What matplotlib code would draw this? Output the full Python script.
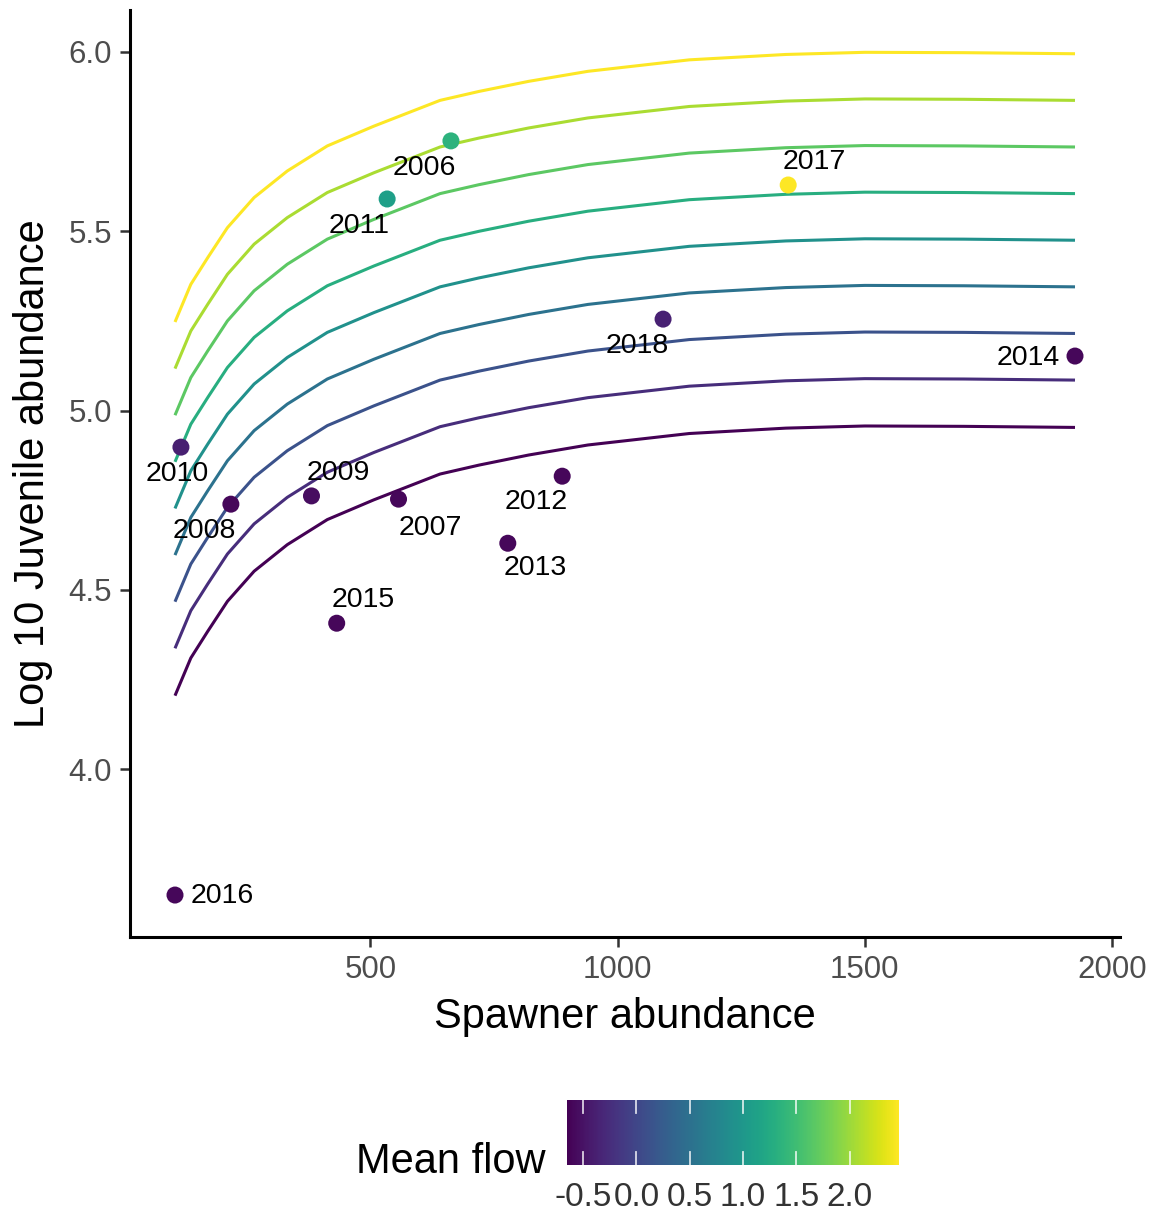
import matplotlib
matplotlib.use("Agg")
import matplotlib.pyplot as plt
import numpy as np
from matplotlib import colors

plt.rcParams['font.family'] = ['Liberation Sans', 'DejaVu Sans']

# ---------------- data ----------------
years = ['2006', '2007', '2008', '2009', '2010', '2011', '2012',
         '2013', '2014', '2015', '2016', '2017', '2018']
spawners = [663, 557, 218, 381, 117, 534, 888, 778, 1925, 432, 105, 1345, 1092]
log_juv = [5.752, 4.753, 4.739, 4.762, 4.898, 5.590, 4.817,
           4.630, 5.152, 4.407, 3.649, 5.629, 5.255]
mean_flow = [1.35, -0.60, -0.60, -0.55, -0.38, 1.10, -0.60,
             -0.60, -0.60, -0.60, -0.60, 2.46, -0.36]

# predicted curves: top (highest flow) curve
curve_S = [105, 137, 171, 211, 265, 332, 413, 507, 641, 720, 820, 940,
           1145, 1340, 1500, 1700, 1925]
top_curve = [5.247, 5.352, 5.426, 5.510, 5.594, 5.668, 5.738, 5.793, 5.865,
             5.890, 5.918, 5.946, 5.978, 5.993, 5.999, 5.998, 5.995]
# flow level of each curve and its offset from the top curve
curve_flow = [2.46, 2.07, 1.68, 1.30, 0.91, 0.52, 0.13, -0.26, -0.65]
curve_shift = [0.0, -0.13, -0.26, -0.39, -0.52, -0.65, -0.78, -0.91, -1.042]

flow_min, flow_max = -0.65, 2.463
cbar_ticks = [-0.5, 0.0, 0.5, 1.0, 1.5, 2.0]
x_ticks = [500, 1000, 1500, 2000]
y_ticks = [4.0, 4.5, 5.0, 5.5, 6.0]

# label offsets in pixels (dx, dy, ha)
label_off = {
    '2016': (16, -1, 'left'), '2010': (-4, -27, 'center'), '2008': (-27, -27, 'center'),
    '2009': (27, 23, 'center'), '2015': (27, 23, 'center'), '2007': (32, -29, 'center'),
    '2013': (27, -25, 'center'), '2012': (-26, -26, 'center'), '2018': (-26, -27, 'center'),
    '2014': (-15, -2, 'right'), '2017': (26, 23, 'center'), '2011': (-28, -27, 'center'),
    '2006': (-27, -27, 'center'),
}

# ---------------- figure ----------------
W, H = 1155, 1216
fig = plt.figure(figsize=(W / 100, H / 100), dpi=100)
ax = fig.add_axes([130 / W, 1 - 937 / H, 990 / W, 927 / H])

cmap = matplotlib.colormaps['viridis']
norm = colors.Normalize(vmin=flow_min, vmax=flow_max)

S = np.array(curve_S)
top = np.array(top_curve)
for fl, sh in zip(curve_flow[::-1], curve_shift[::-1]):
    ax.plot(S, top + sh, color=cmap(norm(fl)), lw=2.2, solid_capstyle='butt',
            solid_joinstyle='round', zorder=2)

ax.scatter(spawners, log_juv, c=mean_flow, cmap=cmap, norm=norm, s=150,
           edgecolors='none', zorder=3)

for yr, xs, ys in zip(years, spawners, log_juv):
    dx, dy, ha = label_off[yr]
    ax.annotate(yr, (xs, ys), xytext=(dx, dy), textcoords='offset pixels',
                ha=ha, va='center', fontsize=20.5, color='black', zorder=4)

ax.set_xlim(14, 2016)
ax.set_ylim(3.532, 6.117)
ax.set_xticks(x_ticks)
ax.set_yticks(y_ticks)
ax.set_yticklabels([f"{v:.1f}" for v in y_ticks])
ax.set_xticklabels([str(v) for v in x_ticks])

for side in ['top', 'right']:
    ax.spines[side].set_visible(False)
for side in ['left', 'bottom']:
    ax.spines[side].set_linewidth(2.2)
    ax.spines[side].set_color('black')
ax.tick_params(axis='both', length=7, width=1.8, color='#333333',
               labelsize=22.5, labelcolor='#4D4D4D')
ax.tick_params(axis='y', pad=6)
ax.tick_params(axis='x', pad=6)

ax.set_xlabel('Spawner abundance', fontsize=30, va='center')
ax.xaxis.set_label_coords(0.5, (937 - 1017) / 927)
ax.set_ylabel('Log 10 Juvenile abundance', fontsize=30, va='center')
ax.yaxis.set_label_coords((33 - 130) / 990, 0.5)

# ---------------- colorbar legend ----------------
cax = fig.add_axes([567 / W, 1 - 1165 / H, 332 / W, 65 / H])
cb = matplotlib.colorbar.ColorbarBase(cax, cmap=cmap, norm=norm, orientation='horizontal')
cb.outline.set_visible(False)
cb.set_ticks(cbar_ticks)
cb.set_ticklabels([f"{v:.1f}" for v in cbar_ticks])
cax.tick_params(length=0, labelsize=24, labelcolor='#333333', pad=12)
for v in cbar_ticks:
    cax.axvline(v, ymin=0, ymax=0.2, color='white', lw=1.3, alpha=0.8)
    cax.axvline(v, ymin=0.8, ymax=1.0, color='white', lw=1.3, alpha=0.8)

fig.text(545 / W, 1 - 1162 / H, 'Mean flow', ha='right', va='center', fontsize=30)

fig.savefig('out.png', dpi=100)
